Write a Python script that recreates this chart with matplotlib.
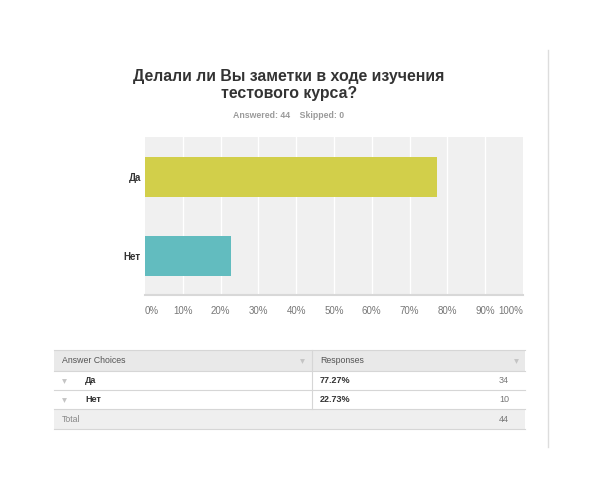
import matplotlib.pyplot as plt
from matplotlib.patches import Rectangle

plt.rcParams['font.family'] = ['Liberation Sans', 'DejaVu Sans']

title = "Делали ли Вы заметки в ходе изучения\nтестового курса?"
answered = 44
skipped = 0
choices = ["Да", "Нет"]
percents = [77.27, 22.73]
counts = [34, 10]
colors = ["#d2cf4a", "#62bcbf"]
ticks = [0, 10, 20, 30, 40, 50, 60, 70, 80, 90, 100]

W, H = 611, 496
fig = plt.figure(figsize=(W / 100, H / 100), dpi=100)

# full-figure overlay in pixel coords (y down)
bg = fig.add_axes([0, 0, 1, 1])
bg.set_xlim(0, W)
bg.set_ylim(H, 0)
bg.axis('off')

# chart area
left, right, top, bottom = 145, 523, 137, 295
ax = fig.add_axes([left / W, 1 - bottom / H, (right - left) / W, (bottom - top) / H])
ax.set_facecolor('#f0f0f0')
ax.barh(range(len(choices)), percents, height=0.51, color=colors, zorder=3)
ax.set_xlim(0, 100)
ax.set_ylim(1.5, -0.51)
for t in ticks[1:-1]:
    ax.axvline(t, color='white', lw=1, zorder=1)
for s in ['top', 'right', 'left']:
    ax.spines[s].set_visible(False)
ax.spines['bottom'].set_color('#d8d8d8')
ax.spines['bottom'].set_linewidth(1.5)
ax.set_yticks(range(len(choices)))
ax.set_yticklabels(choices, fontsize=7, fontweight='bold', color='#333333')
ax.set_xticks(ticks)
ax.set_xticklabels([f"{t}%" for t in ticks], fontsize=7, color='#777777')
ax.tick_params(axis='both', length=0)
ax.tick_params(axis='x', pad=8)
ax.tick_params(axis='y', pad=3)
lbls = ax.get_xticklabels()
lbls[0].set_ha('left')
lbls[-1].set_ha('right')

# title and subtitle
bg.text(289, 85, title, ha='center', va='center', fontsize=11.4, fontweight='bold',
        color='#333333', linespacing=1.2)
bg.text(289, 116, f"Answered: {answered}    Skipped: {skipped}", ha='center', va='center',
        fontsize=6.3, fontweight='bold', color='#9a9a9a')

# right divider
bg.plot([548, 548], [50, 447], color='#dddddd', lw=1)

# table
tl, tr, cdiv = 54, 525, 312
rows_y = [350, 371, 390, 409, 429]
bg.add_patch(Rectangle((tl, rows_y[0]), tr - tl, rows_y[1] - rows_y[0], color='#e9e9e9', lw=0))
bg.add_patch(Rectangle((tl, rows_y[3]), tr - tl, rows_y[4] - rows_y[3], color='#efefef', lw=0))
for y in rows_y:
    bg.plot([tl, tr], [y, y], color='#d6d6d6', lw=0.8)
bg.plot([cdiv, cdiv], [rows_y[0], rows_y[3]], color='#d6d6d6', lw=0.8)

def mid(i):
    return (rows_y[i] + rows_y[i + 1]) / 2

bg.text(62, mid(0), "Answer Choices", fontsize=6.3, color='#555555', va='center')
bg.text(320, mid(0), "Responses", fontsize=6.3, color='#555555', va='center')
bg.plot([302, 516], [mid(0), mid(0)], 'v', ms=3.5, color='#c4c4c4', mec='none')
for i, (c, p, n) in enumerate(zip(choices, percents, counts)):
    y = mid(i + 1)
    bg.plot([64], [y], 'v', ms=3.5, color='#c4c4c4', mec='none')
    bg.text(85, y, c, fontsize=6.5, fontweight='bold', color='#333333', va='center')
    bg.text(320, y, f"{p:.2f}%", fontsize=6.5, fontweight='bold', color='#333333', va='center')
    bg.text(509, y, str(n), fontsize=6.5, color='#777777', va='center', ha='right')
bg.text(62, mid(3), "Total", fontsize=6.3, color='#888888', va='center')
bg.text(509, mid(3), str(sum(counts)), fontsize=6.5, color='#777777', va='center', ha='right')

fig.savefig('out.png', dpi=100)
